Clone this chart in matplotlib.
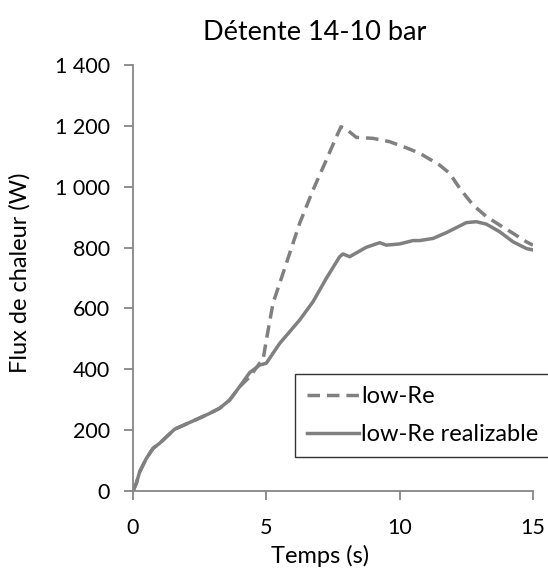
import matplotlib
matplotlib.use('Agg')
import matplotlib.pyplot as plt
from matplotlib.ticker import FuncFormatter

plt.rcParams['font.family'] = ['Lato', 'DejaVu Sans']

# low-Re realizable (solid)
t_real = [0, 0.125, 0.25, 0.5, 0.75, 1.0, 1.56, 2.375, 2.875, 3.25, 3.625, 4.0, 4.375, 4.75, 5.0,
          5.5, 6.25, 6.75, 7.25, 7.75, 7.875, 8.125, 8.75, 9.25, 9.5, 10.0, 10.5, 10.75,
          11.25, 11.75, 12.5, 12.875, 13.25, 13.75, 14.25, 14.75, 15.0]
q_real = [0, 25, 63, 107, 140, 157, 203, 235, 255, 272, 299, 343, 389, 414, 420,
          485, 562, 622, 699, 770, 779, 770, 801, 816, 808, 812, 823, 823,
          830, 849, 882, 885, 877, 852, 819, 797, 792]

# low-Re (dashed)
t_low = [0, 0.125, 0.25, 0.5, 0.75, 1.0, 1.56, 2.375, 2.875, 3.25, 3.625, 4.0, 4.375, 4.75, 4.875,
         5.0, 5.25, 5.75, 6.25, 6.75, 7.25, 7.625, 7.8, 8.0, 8.375, 9.0, 9.625, 10.25,
         10.75, 11.5, 11.875, 12.25, 12.75, 13.25, 13.75, 14.25, 14.75, 15.0]
q_low = [0, 25, 63, 107, 140, 157, 203, 235, 255, 272, 299, 343, 375, 420, 430,
         496, 617, 748, 880, 989, 1088, 1164, 1197, 1189, 1162, 1159, 1148, 1128,
         1110, 1071, 1044, 995, 940, 902, 874, 847, 819, 808]

gray = '#808080'
axis_gray = '#868686'

fig = plt.figure(figsize=(5.48, 5.70), dpi=100)
ax = fig.add_axes([133 / 548, 1 - 491 / 570, 400 / 548, 426 / 570])

ax.plot(t_low, q_low, color=gray, lw=2.5, ls=(0, (3.6, 2.0)), label='low-Re')
ax.plot(t_real, q_real, color=gray, lw=2.5, label='low-Re realizable')

ax.set_xlim(0, 15)
ax.set_ylim(0, 1400)
ax.set_xticks([0, 5, 10, 15])
ax.set_yticks(range(0, 1401, 200))
ax.yaxis.set_major_formatter(FuncFormatter(lambda v, p: f'{v:,.0f}'.replace(',', ' ')))

for s in ['top', 'right']:
    ax.spines[s].set_visible(False)
for s in ['left', 'bottom']:
    ax.spines[s].set_color(axis_gray)
    ax.spines[s].set_linewidth(1.3)
ax.tick_params(axis='both', colors=axis_gray, length=6.5, width=1.3, labelsize=15.5,
               labelcolor='black')
ax.tick_params(axis='y', pad=10)
ax.tick_params(axis='x', pad=13)

fig.text(315 / 548, 1 - 33 / 570, 'Détente 14-10 bar', fontsize=19.5, ha='center', va='center')
fig.text(320 / 548, 1 - 556 / 570, 'Temps (s)', fontsize=17, ha='center', va='center')
fig.text(20 / 548, 1 - 273 / 570, 'Flux de chaleur (W)', fontsize=17, ha='center',
         va='center', rotation=90)

leg = fig.legend(loc='upper left', bbox_to_anchor=(295 / 548, 1 - 458 / 570, 0.5, 84 / 570),
                 mode='expand', fontsize=17, frameon=True, fancybox=False,
                 handlelength=2.2, handletextpad=0.1, borderaxespad=0, borderpad=0.5,
                 labelspacing=0.72)
leg.get_frame().set_edgecolor('black')
leg.get_frame().set_linewidth(1.0)

fig.savefig('out.png', dpi=100)
